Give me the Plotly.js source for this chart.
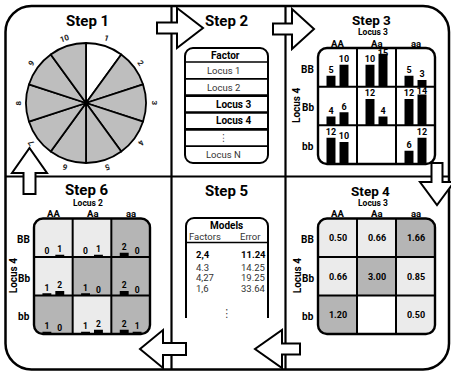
<!DOCTYPE html>
<html><head><meta charset="utf-8">
<script src="https://cdn.plot.ly/plotly-3.0.1.min.js"></script>
<style>html,body{margin:0;padding:0;background:#fff}#chart{width:451px;height:373px}</style>
</head><body><div id="chart"></div>
<script>
// ---------------- data ----------------
const stepTitles = ['Step 1','Step 2','Step 3','Step 4','Step 5','Step 6'];
const pieLabels = ['1','2','3','4','5','6','7','8','9','10'];
const pieWeights = [1,1,1,1,1,1,1,1,1,1];
const pieHighlighted = ['1'];
const factorTitle = 'Factor';
const factorRows = ['Locus 1','Locus 2','Locus 3','Locus 4','⋮','Locus N'];
const factorSelected = [false,false,true,true,false,false];
const genotypesA = ['AA','Aa','aa'];
const genotypesB = ['BB','Bb','bb'];
const step3ColTitle = 'Locus 3';
const step6ColTitle = 'Locus 2';
const rowTitle = 'Locus 4';
// rows BB, Bb, bb ; columns AA, Aa, aa
const step3Cases    = [[5,10,5],[4,12,12],[12,null,6]];
const step3Controls = [[10,15,3],[6,4,14],[10,null,12]];
const step4Ratios   = [['0.50','0.66','1.66'],['0.66','3.00','0.85'],['1.20','','0.50']];
const modelsTitle = 'Models';
const modelHeaders = ['Factors','Error'];
const modelFactors = ['2,4','4.3','4,27','1,6'];
const modelErrors  = ['11.24','14.25','19.25','33.64'];
const step6Cases    = [[0,0,2],[1,1,2],[1,1,2]];
const step6Controls = [[1,1,0],[2,0,0],[0,2,1]];

// ---------------- helpers ----------------
const W = 451, H = 373;
const X = p => p / W, Y = p => 1 - p / H;
const F = "Roboto, 'DejaVu Sans Condensed', sans-serif";
const LIGHT = '#ebebeb', DARK = '#b5b5b5', PIEGRAY = '#bebebe';
const BAR_RANGE = 17.6;      // value units spanned by one grid row
const BARGAP = 0.333, GROUPGAP = 0.31;
const LABEL_LIFT = 2.2, LABEL_CAP = 15.2;

function path(segs){
  return segs.map(s => {
    const pts = [];
    for (let i = 1; i < s.length; i += 2) pts.push(X(s[i]).toFixed(5) + ',' + Y(s[i+1]).toFixed(5));
    return s[0] + pts.join(' ');
  }).join(' ');
}
function rrSegs(x0,y0,x1,y1,r){
  const k = 0.5523*r;
  return [['M',x0+r,y0],['L',x1-r,y0],['C',x1-r+k,y0,x1,y0+r-k,x1,y0+r],['L',x1,y1-r],
    ['C',x1,y1-r+k,x1-r+k,y1,x1-r,y1],['L',x0+r,y1],['C',x0+r-k,y1,x0,y1-r+k,x0,y1-r],
    ['L',x0,y0+r],['C',x0,y0+r-k,x0+r-k,y0,x0+r,y0],['Z']];
}
function cornerMask(x0,y0,x1,y1,r){
  const k = 0.5523*r, e = 1;
  return [['M',x0-e,y0-e],['L',x0+r,y0-e],['L',x0+r,y0],['C',x0+r-k,y0,x0,y0+r-k,x0,y0+r],['L',x0-e,y0+r],['Z'],
    ['M',x1+e,y0-e],['L',x1+e,y0+r],['L',x1,y0+r],['C',x1,y0+r-k,x1-r+k,y0,x1-r,y0],['L',x1-r,y0-e],['Z'],
    ['M',x1+e,y1+e],['L',x1-r,y1+e],['L',x1-r,y1],['C',x1-r+k,y1,x1,y1-r+k,x1,y1-r],['L',x1+e,y1-r],['Z'],
    ['M',x0-e,y1+e],['L',x0-e,y1-r],['L',x0,y1-r],['C',x0,y1-r+k,x0+r-k,y1,x0+r,y1],['L',x0+r,y1+e],['Z']];
}
function arrow(dir, s0, c, hs, h, hh, tip){
  let p;
  if (dir === 'right' || dir === 'left')
    p = [[s0,c-hs],[h,c-hs],[h,c-hh],[tip,c],[h,c+hh],[h,c+hs],[s0,c+hs]];
  else
    p = [[c-hs,s0],[c-hs,h],[c-hh,h],[c,tip],[c+hh,h],[c+hs,h],[c+hs,s0]];
  return [['M',p[0][0],p[0][1]], ...p.slice(1).map(q=>['L',q[0],q[1]]), ['Z']];
}
function rowDomain(g, r){ const h = (g.y1-g.y0)/3; return [Y(g.y0+(r+1)*h), Y(g.y0+r*h)]; }
const highRisk = (c, k) => (k === 0 ? c > 0 : c / k > 1) ? 1 : 0;

const g3 = {x0:318, x1:435, y0:48,    y1:164};
const g4 = {x0:318, x1:435, y0:218.5, y1:334};
const g6 = {x0:34,  x1:150, y0:218.5, y1:334};

const data = [];
const shapes = [];
const ann = [];
function txt(t, x, y, size, opt){
  opt = opt || {};
  ann.push({text:t, x:X(x), y:Y(y), xref:'paper', yref:'paper', showarrow:false,
    xanchor:opt.xanchor||'center', yanchor:'middle', textangle:opt.angle||0,
    font:{family:F, size:size, color:opt.color||'#000', weight:opt.bold?'bold':'normal'}});
}

// ---------------- Step 1 pie ----------------
const pc = {x:86, y:103, r:60};
data.push({type:'pie', values:pieWeights, labels:pieLabels, sort:false, direction:'clockwise', rotation:0,
  marker:{colors:pieLabels.map(l => pieHighlighted.includes(l) ? '#ffffff' : PIEGRAY), line:{color:'#000', width:1.8}},
  textinfo:'none', hoverinfo:'skip', showlegend:false,
  domain:{x:[X(pc.x-pc.r), X(pc.x+pc.r)], y:[Y(pc.y+pc.r), Y(pc.y-pc.r)]}});
const tot = pieWeights.reduce((a,b)=>a+b,0);
let acc = 0;
pieLabels.forEach((l,i) => {
  const th = (acc + pieWeights[i]/2) / tot * 360; acc += pieWeights[i];
  const R = 67.5, rad = th*Math.PI/180;
  txt(l, pc.x + R*Math.sin(rad), pc.y - R*Math.cos(rad), 8, {bold:true, angle:th, color:'#222'});
});

// ---------------- bar cells (Step 3 and Step 6) ----------------
const slot = (1 - BARGAP) / 2;           // width of one bar slot in category units
const offs = [-slot/2, slot/2];
function barCells(cases, controls, xa, yas, fsize){
  genotypesB.forEach((b,r) => {
    [cases, controls].forEach((src,s) => {
      data.push({type:'bar', x:[0,1,2], y:src[r], xaxis:xa, yaxis:yas[r], marker:{color:'#000', line:{width:0}},
        hoverinfo:'skip', showlegend:false});
    });
    [cases, controls].forEach((src,s) => {
      const keep = src[r].map(v => v != null);
      data.push({type:'scatter', mode:'text', xaxis:xa, yaxis:yas[r],
        x:[0,1,2].filter((j)=>keep[j]).map(j => j + offs[s]),
        y:src[r].filter(v => v != null).map(v => Math.min(v + LABEL_LIFT, LABEL_CAP)),
        text:src[r].filter(v => v != null).map(String), textposition:'middle center', cliponaxis:false,
        textfont:{family:F, size:fsize, color:'#000', weight:'bold'}, hoverinfo:'skip', showlegend:false});
    });
  });
}
barCells(step3Cases, step3Controls, 'x', ['y','y2','y3'], 9);

// ---------------- Step 4 heatmap ----------------
const cs = [[0,LIGHT],[0.5,LIGHT],[0.5,DARK],[1,DARK]];
data.push({type:'heatmap', x:[0,1,2], y:[0,1,2], xaxis:'x2', yaxis:'y4',
  z:step4Ratios.map(row => row.map(v => v === '' ? null : (parseFloat(v) > 1 ? 1 : 0))),
  text:step4Ratios, texttemplate:'%{text}', textfont:{family:F, size:9, color:'#000', weight:'bold'},
  colorscale:cs, zmin:0, zmax:1, showscale:false, hoverinfo:'skip'});

// ---------------- Step 6 heatmap + bars ----------------
data.push({type:'heatmap', x:[0,1,2], y:[0,1,2], xaxis:'x3', yaxis:'y5',
  z:step6Cases.map((row,r) => row.map((c,j) => highRisk(c, step6Controls[r][j]))),
  colorscale:cs, zmin:0, zmax:1, showscale:false, hoverinfo:'skip'});
barCells(step6Cases, step6Controls, 'x4', ['y6','y7','y8'], 8.5);

// ---------------- layout axes ----------------
const hid = {visible:false, fixedrange:true};
const layout = {
  width:W, height:H, margin:{l:0,r:0,t:0,b:0}, paper_bgcolor:'#fff', plot_bgcolor:'rgba(0,0,0,0)',
  showlegend:false, barmode:'group', bargap:BARGAP, bargroupgap:GROUPGAP,
  xaxis: {...hid, domain:[X(g3.x0),X(g3.x1)], range:[-0.5,2.5], anchor:'y3'},
  yaxis: {...hid, domain:rowDomain(g3,0), range:[0,BAR_RANGE], anchor:'x'},
  yaxis2:{...hid, domain:rowDomain(g3,1), range:[0,BAR_RANGE], anchor:'x'},
  yaxis3:{...hid, domain:rowDomain(g3,2), range:[0,BAR_RANGE], anchor:'x'},
  xaxis2:{...hid, domain:[X(g4.x0),X(g4.x1)], range:[-0.5,2.5], anchor:'y4'},
  yaxis4:{...hid, domain:[Y(g4.y1),Y(g4.y0)], range:[2.5,-0.5], anchor:'x2'},
  xaxis3:{...hid, domain:[X(g6.x0),X(g6.x1)], range:[-0.5,2.5], anchor:'y5'},
  yaxis5:{...hid, domain:[Y(g6.y1),Y(g6.y0)], range:[2.5,-0.5], anchor:'x3'},
  xaxis4:{...hid, domain:[X(g6.x0),X(g6.x1)], range:[-0.5,2.5], anchor:'y8'},
  yaxis6:{...hid, domain:rowDomain(g6,0), range:[0,BAR_RANGE], anchor:'x4'},
  yaxis7:{...hid, domain:rowDomain(g6,1), range:[0,BAR_RANGE], anchor:'x4'},
  yaxis8:{...hid, domain:rowDomain(g6,2), range:[0,BAR_RANGE], anchor:'x4'}
};

// ---------------- decorations ----------------
function addPath(segs, lw, fill){
  shapes.push({type:'path', xref:'paper', yref:'paper', layer:'above', path:path(segs),
    line:{color:'#000', width:lw}, fillcolor:fill||'rgba(0,0,0,0)'});
}
function addMask(segs){
  shapes.push({type:'path', xref:'paper', yref:'paper', layer:'above', path:path(segs),
    line:{width:0}, fillcolor:'#fff'});
}
function addLine(x0,y0,x1,y1,lw){
  shapes.push({type:'line', xref:'paper', yref:'paper', layer:'above', x0:X(x0), y0:Y(y0), x1:X(x1), y1:Y(y1),
    line:{color:'#000', width:lw}});
}
// frame + dividers
addPath(rrSegs(5.5,6,449,369.5,26), 2.5);
addLine(171.5,6,171.5,369.5,2.2);
addLine(285.5,6,285.5,369.5,2.2);
addLine(5.5,176.5,449,176.5,2.2);

// grids
[g3,g4,g6].forEach(g => {
  const w = (g.x1-g.x0)/3, h = (g.y1-g.y0)/3;
  for (let k = 1; k < 3; k++){
    addLine(g.x0+k*w, g.y0, g.x0+k*w, g.y1, 2);
    addLine(g.x0, g.y0+k*h, g.x1, g.y0+k*h, 2);
  }
  addMask(cornerMask(g.x0,g.y0,g.x1,g.y1,9));
  addPath(rrSegs(g.x0,g.y0,g.x1,g.y1,9), 2.4);
});

// grid labels
function gridLabels(g, colTitle, colTitleX){
  const w = (g.x1-g.x0)/3, h = (g.y1-g.y0)/3;
  txt(colTitle, colTitleX, g.y0-15.5, 8.5, {bold:true});
  genotypesA.forEach((a,j) => txt(a, g.x0+(j+0.5)*w, g.y0-4.8, 9.5, {bold:true}));
  genotypesB.forEach((b,r) => txt(b, g.x0-2, g.y0+(r+0.5)*h+2, 10, {bold:true, xanchor:'right'}));
  txt(rowTitle, g.x0-21, g.y0+(g.y1-g.y0)/2, 10, {bold:true, angle:-90});
}
gridLabels(g3, step3ColTitle, 373);
gridLabels(g4, step3ColTitle, 373);
gridLabels(g6, step6ColTitle, 88);

// Step 2 factor table
const t2 = {x0:185, x1:268, y0:48, y1:163, hh:14};
const rh = (t2.y1 - t2.y0 - t2.hh) / factorRows.length;
addLine(t2.x0, t2.y0+t2.hh, t2.x1, t2.y0+t2.hh, 1.6);
for (let i = 0; i < factorRows.length-1; i++){
  const thick = factorSelected[i] || factorSelected[i+1];
  addLine(t2.x0, t2.y0+t2.hh+(i+1)*rh, t2.x1, t2.y0+t2.hh+(i+1)*rh, thick ? 2.6 : 1.6);
}
addPath(rrSegs(t2.x0,t2.y0,t2.x1,t2.y1,8), 2);
txt(factorTitle, 225, t2.y0+t2.hh/2+0.5, 10, {bold:true});
factorRows.forEach((f,i) => {
  const sel = factorSelected[i];
  txt(f, sel ? 233.5 : 223, t2.y0+t2.hh+(i+0.5)*rh, sel ? 10 : 9.5, {bold:sel, color:sel ? '#000' : '#333'});
});

// Step 5 models table
const t5 = {x0:186, x1:268, y0:218, yb:318, r:8};
{
  const k = 0.5523*t5.r, r = t5.r;
  addPath([['M',t5.x0,t5.yb],['L',t5.x0,t5.y0+r],['C',t5.x0,t5.y0+r-k,t5.x0+r-k,t5.y0,t5.x0+r,t5.y0],
    ['L',t5.x1-r,t5.y0],['C',t5.x1-r+k,t5.y0,t5.x1,t5.y0+r-k,t5.x1,t5.y0+r],['L',t5.x1,t5.yb]], 2);
}
addLine(t5.x0, 242.5, t5.x1, 242.5, 1.3);
txt(modelsTitle, 226.5, 225.5, 10, {bold:true});
txt(modelHeaders[0], 205, 236.5, 9.5, {color:'#333'});
txt(modelHeaders[1], 250, 236.5, 9.5, {color:'#333'});
const modelRowY = [254, 267, 277.5, 288];
modelFactors.forEach((m,i) => {
  txt(m, 194, modelRowY[i], 9.5, {xanchor:'left', bold:i===0, color:i===0?'#000':'#333'});
  txt(modelErrors[i], 239.5, modelRowY[i], 9.5, {xanchor:'left', bold:i===0, color:i===0?'#000':'#333'});
});
txt('⋮', 226.5, 313, 11, {color:'#333'});

// Step titles
const titlePos = [[87,21,15],[227,21,15],[371,19.5,13.5],[370,190.5,13.5],[226.5,190.5,15],[86.5,189.5,15]];
stepTitles.forEach((t,i) => txt(t, titlePos[i][0], titlePos[i][1], titlePos[i][2], {bold:true}));

// arrows (white filled, over the divider lines)
addPath(arrow('right', 157, 28, 5.5, 177, 20, 203), 2, '#fff');
addPath(arrow('right', 273, 29, 5.5, 292, 20, 314), 2, '#fff');
addPath(arrow('down', 163, 437, 5.5, 182, 17, 205), 2, '#fff');
addPath(arrow('left', 300, 349, 5.5, 282, 19, 255), 2, '#fff');
addPath(arrow('left', 186, 349, 6, 163, 19, 140), 2, '#fff');
addPath(arrow('up', 194, 29.5, 6, 173, 17.5, 148), 2, '#fff');

layout.shapes = shapes;
layout.annotations = ann;
Plotly.newPlot('chart', data, layout, {staticPlot:true, displayModeBar:false});
</script></body></html>
